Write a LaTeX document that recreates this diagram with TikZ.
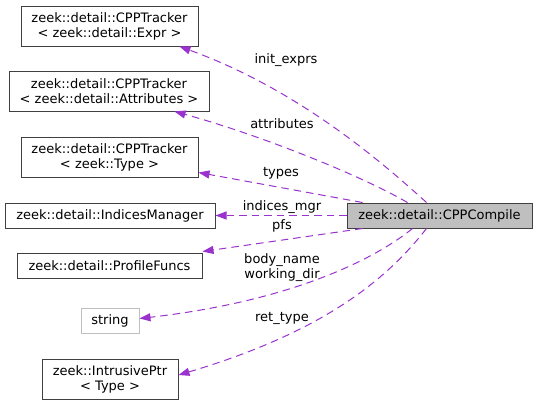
\documentclass[tikz,border=0pt]{standalone}
\usepackage{fontspec}
\setmainfont{DejaVu Sans}
\usetikzlibrary{arrows.meta,calc}
\definecolor{edgec}{HTML}{9A32CD}
\definecolor{boxb}{HTML}{404040}
\definecolor{grayb}{HTML}{BFBFBF}
\tikzset{
  box/.style={draw=boxb, line width=1pt, fill=white, inner sep=0pt, align=center, font=\fontsize{13}{15}\selectfont},
  graybox/.style={box, draw=grayb},
  mainbox/.style={box, fill=grayb},
  rel/.style={draw=edgec, line width=1pt, dash pattern=on 7.5pt off 5pt, -{Triangle[length=11pt,width=8pt]}},
  lbl/.style={font=\fontsize{13}{15}\selectfont, inner sep=0pt, align=center}
}
\begin{document}
\begin{tikzpicture}[x=1pt,y=-1pt]
\useasboundingbox (0,0) rectangle (537,405);
\node[box, minimum width=177pt, minimum height=40pt] (expr) at (109.5,26) {zeek::detail::CPPTracker\\< zeek::detail::Expr >};
\node[box, minimum width=200pt, minimum height=40pt] (attr) at (109,91) {zeek::detail::CPPTracker\\< zeek::detail::Attributes >};
\node[box, minimum width=177pt, minimum height=40pt] (type) at (109.5,157) {zeek::detail::CPPTracker\\< zeek::Type >};
\node[box, minimum width=210pt, minimum height=25pt] (idx) at (110,215.5) {zeek::detail::IndicesManager};
\node[box, minimum width=185pt, minimum height=25pt] (pf) at (109.5,265.5) {zeek::detail::ProfileFuncs};
\node[graybox, minimum width=58pt, minimum height=25pt] (str) at (110,320.5) {string};
\node[box, minimum width=136pt, minimum height=40pt] (ptr) at (110,379) {zeek::IntrusivePtr\\< Type >};
\node[mainbox, minimum width=185pt, minimum height=25pt] (cpp) at (439.5,215.5) {zeek::detail::CPPCompile};

\draw[rel] ($(cpp.north west)+(80,0)$) .. controls (385,165) and (300,90) .. ($(expr.south west)+(159,0)$);
\draw[rel] ($(cpp.north west)+(61,0)$) .. controls (360,175) and (260,135) .. ($(attr.south west)+(166,0)$);
\draw[rel] ($(cpp.north west)+(16,0)$) -- ($(type.south east)+(0,-5)$);
\draw[rel] (cpp.west) -- (idx.east);
\draw[rel] ($(cpp.south west)+(16,0)$) -- ($(pf.north east)+(0,-1)$);
\draw[rel] ($(cpp.south west)+(66,0)$) .. controls (380,255) and (300,300) .. ($(str.east)+(0,-2)$);
\draw[rel] ($(cpp.south west)+(80,0)$) .. controls (390,275) and (330,330) .. ($(ptr.east)+(0,-4)$);

\node[lbl] (l1) at (286,60) {init\_exprs};
\node[lbl] (l2) at (282,124) {attributes};
\node[lbl] (l3) at (281,173) {types};
\node[lbl] (l4) at (282,207) {indices\_mgr};
\node[lbl] (l5) at (282,226) {pfs};
\node[lbl] (l6) at (282,267.5) {body\_name\\working\_dir};
\node[lbl] (l7) at (282,318) {ret\_type};
\end{tikzpicture}
\end{document}
